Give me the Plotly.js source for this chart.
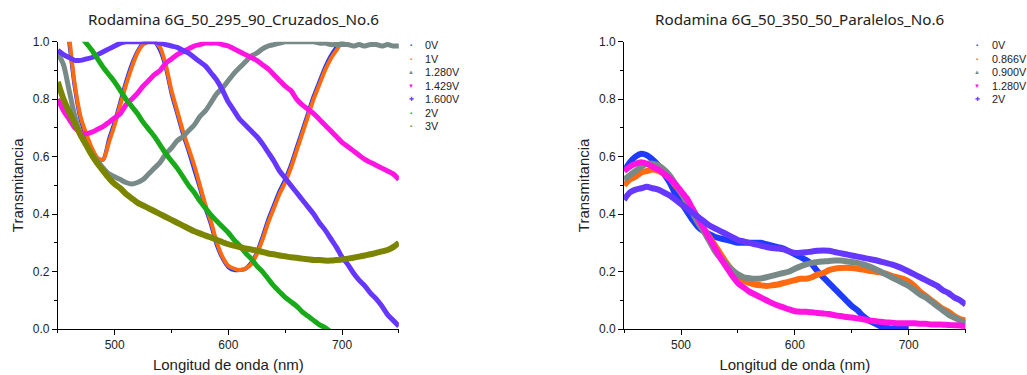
<!DOCTYPE html>
<html>
<head>
<meta charset="utf-8">
<script src="https://cdn.plot.ly/plotly-3.0.1.min.js"></script>
<style>html,body{margin:0;padding:0;background:#fff}#chart{width:1027px;height:375px}</style>
</head>
<body>
<div id="chart"></div>
<script>
// Wavelength grid (nm)
const wavelength = [450,455,460,465,470,475,480,485,490,495,500,505,510,515,520,525,530,535,540,545,550,555,560,565,570,575,580,585,590,595,600,605,610,615,620,625,630,635,640,645,650,655,660,665,670,675,680,685,690,695,700,705,710,715,720,725,730,735,740,745,750];

// ---- Left panel: Rodamina 6G_50_295_90_Cruzados_No.6 ----
const leftTitle = "Rodamina 6G_50_295_90_Cruzados_No.6";
const leftNames = ["0V","1V","1.280V","1.429V","1.600V","2V","3V"];
const L_0V = [null,null,1.0,0.84,0.73,0.67,0.625,0.59,0.59,0.66,0.72,0.79,0.86,0.92,0.965,0.995,1.0,1.0,0.97,0.91,0.82,0.75,0.68,0.62,0.555,0.49,0.42,0.36,0.29,0.245,0.215,0.205,0.205,0.21,0.23,0.265,0.32,0.38,0.43,0.48,0.52,0.57,0.63,0.69,0.75,0.81,0.86,0.91,0.95,0.98,1.0,1.03,null,null,null,null,null,null,null,null,null];
const L_1V = [null,null,1.02,0.85,0.74,0.68,0.63,0.595,0.59,0.65,0.71,0.78,0.85,0.91,0.96,0.99,1.0,1.0,0.98,0.92,0.83,0.76,0.69,0.63,0.57,0.50,0.43,0.37,0.30,0.25,0.22,0.21,0.205,0.21,0.225,0.26,0.31,0.37,0.42,0.47,0.51,0.56,0.62,0.68,0.74,0.80,0.85,0.90,0.94,0.97,1.0,1.03,null,null,null,null,null,null,null,null,null];
const L_1280V = [0.96,0.92,0.83,0.74,0.68,0.64,0.61,0.585,0.56,0.54,0.53,0.52,0.51,0.505,0.51,0.52,0.54,0.56,0.58,0.61,0.63,0.655,0.67,0.69,0.71,0.74,0.76,0.79,0.82,0.84,0.865,0.89,0.91,0.93,0.95,0.96,0.975,0.985,0.99,0.995,1.0,1.0,1.0,1.0,1.0,1.0,0.995,0.995,0.99,0.99,0.99,0.99,0.985,0.99,0.985,0.99,0.99,0.985,0.99,0.985,0.985];
const L_1429V = [0.80,0.76,0.73,0.70,0.685,0.68,0.685,0.695,0.705,0.72,0.735,0.75,0.78,0.80,0.82,0.845,0.865,0.885,0.90,0.925,0.94,0.955,0.965,0.975,0.985,0.99,0.995,0.995,0.995,0.99,0.985,0.975,0.965,0.955,0.945,0.935,0.92,0.905,0.885,0.865,0.845,0.83,0.80,0.78,0.765,0.75,0.73,0.71,0.69,0.67,0.65,0.635,0.62,0.605,0.59,0.58,0.57,0.56,0.55,0.54,0.52];
const L_1600V = [0.97,0.955,0.945,0.935,0.935,0.94,0.945,0.955,0.965,0.975,0.985,0.995,1.0,1.0,1.0,1.0,1.0,1.0,0.995,0.99,0.985,0.98,0.97,0.96,0.945,0.93,0.915,0.89,0.865,0.83,0.79,0.76,0.73,0.71,0.69,0.67,0.645,0.615,0.585,0.55,0.525,0.50,0.475,0.45,0.425,0.40,0.37,0.345,0.315,0.285,0.25,0.225,0.195,0.17,0.15,0.125,0.105,0.08,0.05,0.03,0.01];
const L_2V = [null,null,null,null,1.02,0.995,0.97,0.94,0.91,0.885,0.86,0.83,0.80,0.775,0.75,0.72,0.695,0.67,0.64,0.61,0.585,0.56,0.53,0.50,0.475,0.445,0.42,0.395,0.375,0.355,0.335,0.31,0.29,0.265,0.245,0.22,0.20,0.175,0.15,0.13,0.11,0.095,0.08,0.06,0.045,0.03,0.015,0.005,-0.01,null,null,null,null,null,null,null,null,null,null,null,null];
const L_3V = [0.86,0.80,0.755,0.715,0.675,0.64,0.605,0.575,0.55,0.525,0.505,0.49,0.47,0.455,0.44,0.43,0.42,0.41,0.40,0.39,0.38,0.37,0.36,0.35,0.34,0.333,0.325,0.318,0.31,0.302,0.295,0.29,0.285,0.28,0.277,0.273,0.268,0.263,0.26,0.256,0.253,0.25,0.248,0.245,0.243,0.24,0.24,0.238,0.238,0.24,0.242,0.245,0.248,0.252,0.256,0.26,0.265,0.27,0.275,0.285,0.30];

// ---- Right panel: Rodamina 6G_50_350_50_Paralelos_No.6 ----
const rightTitle = "Rodamina 6G_50_350_50_Paralelos_No.6";
const rightNames = ["0V","0.866V","0.900V","1.280V","2V"];
const R_0V = [0.55,0.58,0.60,0.61,0.605,0.59,0.57,0.54,0.51,0.47,0.44,0.41,0.38,0.355,0.34,0.33,0.32,0.315,0.31,0.305,0.30,0.30,0.30,0.30,0.30,0.295,0.29,0.285,0.28,0.27,0.26,0.25,0.24,0.225,0.20,0.18,0.16,0.14,0.12,0.10,0.08,0.065,0.045,0.03,0.02,0.01,0.005,0.0,0.0,0.0,0.0,null,null,null,null,null,null,null,null,null,null];
const R_0866V = [0.50,0.52,0.53,0.545,0.55,0.555,0.55,0.54,0.525,0.50,0.475,0.445,0.415,0.385,0.35,0.32,0.29,0.26,0.23,0.205,0.185,0.17,0.16,0.155,0.152,0.15,0.152,0.155,0.16,0.165,0.17,0.175,0.175,0.18,0.19,0.195,0.205,0.21,0.212,0.213,0.212,0.21,0.207,0.203,0.20,0.197,0.193,0.185,0.18,0.175,0.165,0.15,0.13,0.115,0.10,0.085,0.07,0.06,0.045,0.035,0.03];
const R_0900V = [0.52,0.535,0.55,0.565,0.575,0.575,0.57,0.555,0.535,0.505,0.475,0.44,0.405,0.37,0.34,0.305,0.27,0.245,0.225,0.205,0.19,0.18,0.177,0.175,0.176,0.18,0.185,0.19,0.195,0.20,0.21,0.218,0.225,0.23,0.233,0.235,0.237,0.238,0.238,0.236,0.233,0.23,0.225,0.218,0.21,0.20,0.19,0.18,0.17,0.16,0.15,0.135,0.12,0.11,0.095,0.08,0.065,0.05,0.04,0.03,0.02];
const R_1280V = [0.55,0.565,0.575,0.58,0.575,0.565,0.555,0.54,0.525,0.505,0.48,0.455,0.42,0.385,0.35,0.315,0.28,0.245,0.215,0.185,0.16,0.145,0.13,0.12,0.11,0.10,0.09,0.082,0.075,0.068,0.062,0.06,0.06,0.058,0.056,0.054,0.052,0.048,0.045,0.042,0.04,0.037,0.034,0.03,0.028,0.025,0.023,0.022,0.02,0.02,0.02,0.02,0.018,0.018,0.016,0.016,0.015,0.014,0.013,0.012,0.01];
const R_2V = [0.45,0.475,0.485,0.49,0.495,0.49,0.485,0.475,0.465,0.45,0.435,0.42,0.405,0.39,0.375,0.36,0.35,0.34,0.33,0.32,0.31,0.305,0.30,0.295,0.29,0.285,0.282,0.28,0.277,0.27,0.265,0.265,0.267,0.27,0.272,0.273,0.272,0.268,0.264,0.26,0.256,0.252,0.248,0.244,0.24,0.235,0.23,0.225,0.218,0.21,0.20,0.19,0.18,0.17,0.16,0.15,0.135,0.125,0.11,0.10,0.085];

const xTitle = "Longitud de onda (nm)";
const yTitle = "Transmitancia";

const leftColors = ["#1e3cff","#ff6a10","#778a87","#ff14e2","#6638ff","#18aa18","#7b8500"];
const rightColors = ["#1e3cff","#ff6a10","#778a87","#ff14e2","#6638ff"];
const leftWidths = [4,4,5,5,5,5,6];
const rightWidths = [6,6,6,6,6];
const leftSymbols = ["▪","▪","▲","▼","✚","▪","▪"];
const rightSymbols = ["▪","▪","▲","▼","✚"];

const leftSeries = [L_0V,L_1V,L_1280V,L_1429V,L_1600V,L_2V,L_3V];
const rightSeries = [R_0V,R_0866V,R_0900V,R_1280V,R_2V];

const traces = [];
leftSeries.forEach((ys,i)=>traces.push({
  type:'scatter', mode:'lines', x:wavelength, y:ys, name:leftNames[i],
  xaxis:'x', yaxis:'y', showlegend:false, connectgaps:false,
  line:{color:leftColors[i], width:leftWidths[i], shape:'spline', smoothing:0.7}
}));
rightSeries.forEach((ys,i)=>traces.push({
  type:'scatter', mode:'lines', x:wavelength, y:ys, name:rightNames[i],
  xaxis:'x2', yaxis:'y2', showlegend:false, connectgaps:false,
  line:{color:rightColors[i], width:rightWidths[i], shape:'spline', smoothing:0.7}
}));

const W = 1027, H = 375;
const tickFont = {family:'"Liberation Sans", Arial, sans-serif', size:12, color:'#222'};
const titleFont = {family:'"Liberation Sans", Arial, sans-serif', size:15, color:'#222'};

function xAxis(domain, anchor){
  return {domain:domain, anchor:anchor, range:[450,750], dtick:100, tick0:0,
    showline:true, linecolor:'#000', linewidth:1, mirror:false, showgrid:false, zeroline:false,
    ticks:'outside', ticklen:5, tickwidth:1, tickcolor:'#000', tickfont:tickFont,
    minor:{dtick:50, tick0:0, ticks:'outside', ticklen:3, tickcolor:'#000', showgrid:false},
    title:{text:xTitle, font:titleFont, standoff:8}};
}
function yAxis(domain, anchor){
  return {domain:domain, anchor:anchor, range:[0,1], dtick:0.2, tick0:0, tickformat:'.1f',
    showline:true, linecolor:'#000', linewidth:1, mirror:false, showgrid:false, zeroline:false,
    ticks:'outside', ticklen:5, tickwidth:1, tickcolor:'#000', tickfont:tickFont,
    minor:{dtick:0.1, tick0:0, ticks:'outside', ticklen:3, tickcolor:'#000', showgrid:false},
    title:{text:yTitle, font:titleFont, standoff:5}};
}
const yDom = [(H-329)/H, (H-41.7)/H];

const annotations = [];
function addTitle(text, cx){
  annotations.push({text:text, xref:'paper', yref:'paper', x:cx/W, y:(H-19)/H,
    xanchor:'center', yanchor:'middle', showarrow:false,
    font:{family:'"Noto Sans","Open Sans",sans-serif', size:15.2, color:'#222'}});
}
addTitle(leftTitle, 233);
addTitle(rightTitle, 799);

function addLegend(names, colors, symbols, mx, tx, y0, dy){
  names.forEach((n,i)=>{
    const yy = (H-(y0+i*dy))/H;
    annotations.push({text:symbols[i], xref:'paper', yref:'paper', x:mx/W, y:yy,
      xanchor:'center', yanchor:'middle', showarrow:false, font:{size:6, color:colors[i]}});
    annotations.push({text:n, xref:'paper', yref:'paper', x:tx/W, y:yy,
      xanchor:'left', yanchor:'middle', showarrow:false, borderpad:0,
      font:{family:'"Liberation Sans", Arial, sans-serif', size:10.8, color:'#222'}});
  });
}
addLegend(leftNames, leftColors, leftSymbols, 411, 424, 45.5, 13.4);
addLegend(rightNames, rightColors, rightSymbols, 977, 991, 45.5, 13.4);

const layout = {
  width:W, height:H, margin:{l:0,r:0,t:0,b:0},
  paper_bgcolor:'#fff', plot_bgcolor:'#fff', showlegend:false,
  xaxis: xAxis([57.8/W, 398.9/W], 'y'),
  yaxis: yAxis(yDom, 'x'),
  xaxis2: xAxis([624.1/W, 965.6/W], 'y2'),
  yaxis2: yAxis(yDom, 'x2'),
  annotations: annotations
};
Plotly.newPlot('chart', traces, layout, {displayModeBar:false, staticPlot:true});
</script>
</body>
</html>
